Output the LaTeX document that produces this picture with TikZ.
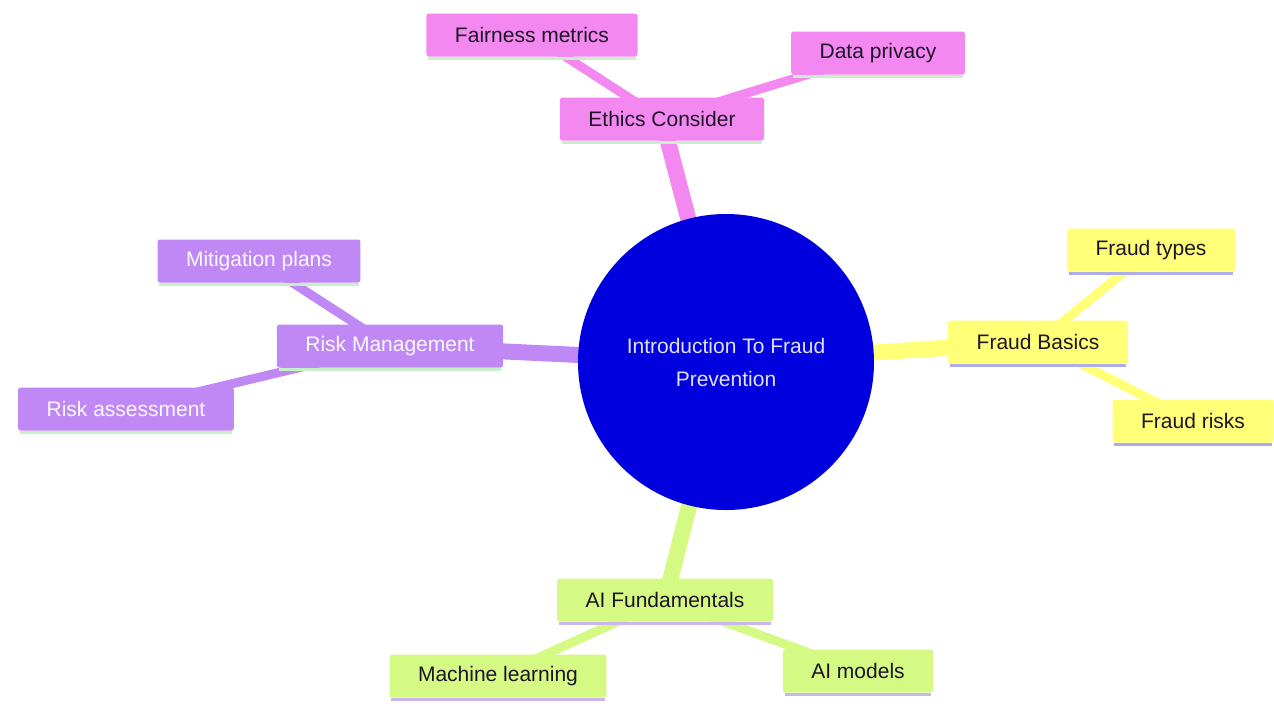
\documentclass[tikz,border=0pt]{standalone}
\usepackage{fontspec}
\setmainfont{Liberation Sans}
\pgfdeclarelayer{background}
\pgfdeclarelayer{paper}
\pgfsetlayers{paper,background,main}
\definecolor{pinkF}{RGB}{243,137,240}
\definecolor{purpF}{RGB}{192,136,245}
\definecolor{yelF}{RGB}{255,255,120}
\definecolor{grnF}{RGB}{213,250,132}
\definecolor{blueF}{RGB}{0,0,222}
\definecolor{lineG}{RGB}{200,240,200}
\definecolor{lineL}{RGB}{172,172,232}
\definecolor{lineV}{RGB}{200,182,236}
\definecolor{darkT}{RGB}{30,20,40}
\tikzset{
  box/.style={rectangle, rounded corners=2.5pt, inner xsep=28.5pt, inner ysep=0pt,
    minimum height=43pt, font=\fontsize{21}{25}\selectfont},
  pinkbox/.style={box, fill=pinkF, text=darkT},
  purpbox/.style={box, fill=purpF, text=white!94!purpF},
  yelbox/.style={box, fill=yelF, text=darkT},
  grnbox/.style={box, fill=grnF, text=darkT},
  root/.style={circle, fill=blueF, minimum size=296pt, inner sep=0pt, align=center,
    text=white!88!blueF, font=\fontsize{21}{33}\selectfont},
  mainedge/.style={line width=16pt},
  leafedge/.style={line width=9pt},
  bline/.style={line width=3pt}
}
\begin{document}
\begin{tikzpicture}[x=1pt,y=-1pt]
\begin{pgfonlayer}{paper}
\useasboundingbox[fill=white] (0,0) rectangle (1274,705);
\end{pgfonlayer}
% nodes
\node[root] (c) at (726,362) {Introduction To Fraud\\Prevention};
\node[pinkbox] (eth) at (662,119) {Ethics Consider};
\node[pinkbox] (fair) at (532,35) {Fairness metrics};
\node[pinkbox] (priv) at (878,53) {Data privacy};
\node[yelbox] (fb) at (1038,342) {Fraud Basics};
\node[yelbox] (ft) at (1151,250) {Fraud types};
\node[yelbox] (fr) at (1193,421) {Fraud risks};
\node[purpbox] (rm) at (390,346) {Risk Management};
\node[purpbox] (mp) at (259,261) {Mitigation plans};
\node[purpbox] (ra) at (126,409) {Risk assessment};
\node[grnbox] (aif) at (665,600) {AI Fundamentals};
\node[grnbox] (ml) at (498,676) {Machine learning};
\node[grnbox] (aim) at (858,671) {AI models};
% bottom lines
\foreach \n/\col in {eth/lineG,fair/lineG,priv/lineG,rm/lineG,mp/lineG,ra/lineG,
  fb/lineL,ft/lineL,fr/lineL,aif/lineV,ml/lineV,aim/lineV}{
  \draw[bline,\col] ([yshift=-1.5pt,xshift=2pt]\n.south west) -- ([yshift=-1.5pt,xshift=-2pt]\n.south east);
}
% edges
\begin{pgfonlayer}{background}
\draw[mainedge,pinkF] (c.center) -- (eth.center);
\draw[leafedge,pinkF] (eth.center) -- (fair.center);
\draw[leafedge,pinkF] (eth.center) -- (priv.center);
\draw[mainedge,yelF] (c.center) -- (fb.center);
\draw[leafedge,yelF] (fb.center) -- (ft.center);
\draw[leafedge,yelF] (fb.center) -- (fr.center);
\draw[mainedge,purpF] (c.center) -- (rm.center);
\draw[leafedge,purpF] (rm.center) -- (mp.center);
\draw[leafedge,purpF] (rm.center) -- (ra.center);
\draw[mainedge,grnF] (c.center) -- (aif.center);
\draw[leafedge,grnF] (aif.center) -- (ml.center);
\draw[leafedge,grnF] (aif.center) -- (aim.center);
\end{pgfonlayer}
\end{tikzpicture}
\end{document}
